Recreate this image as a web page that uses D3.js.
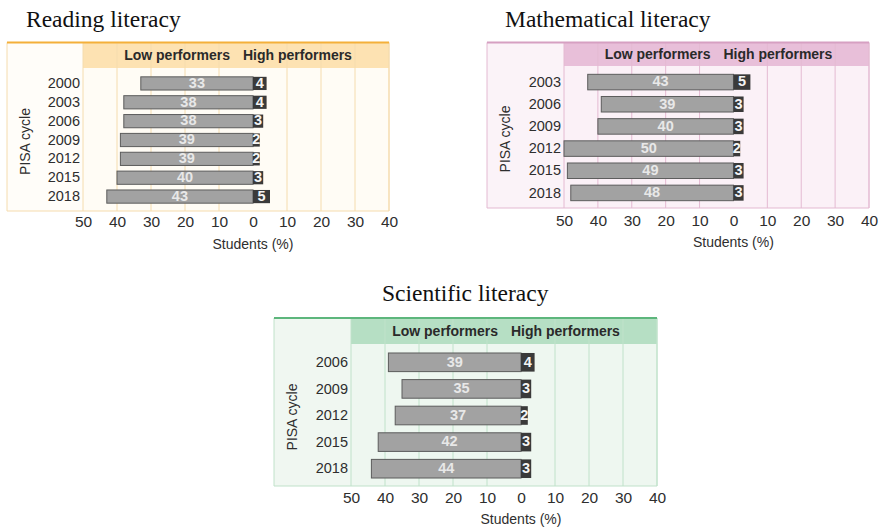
<!DOCTYPE html>
<html>
<head>
<meta charset="utf-8">
<script src="https://cdn.jsdelivr.net/npm/d3@7"></script>
<style>
  html, body { margin: 0; padding: 0; background: #ffffff; }
  svg { display: block; }
</style>
</head>
<body>
<svg id="chart" width="881" height="529"></svg>
<script>
// ---- data ----
const readingYears = ["2000", "2003", "2006", "2009", "2012", "2015", "2018"];
const readingLow   = [33, 38, 38, 39, 39, 40, 43];
const readingHigh  = [4, 4, 3, 2, 2, 3, 5];

const mathYears = ["2003", "2006", "2009", "2012", "2015", "2018"];
const mathLow   = [43, 39, 40, 50, 49, 48];
const mathHigh  = [5, 3, 3, 2, 3, 3];

const sciYears = ["2006", "2009", "2012", "2015", "2018"];
const sciLow   = [39, 35, 37, 42, 44];
const sciHigh  = [4, 3, 2, 3, 3];

const tickValues = [-50, -40, -30, -20, -10, 0, 10, 20, 30, 40];
const tickLabels = ["50", "40", "30", "20", "10", "0", "10", "20", "30", "40"];

const panelTitles = ["Reading literacy", "Mathematical literacy", "Scientific literacy"];
const headerLow = "Low performers";
const headerHigh = "High performers";
const axisTitle = "Students (%)";
const yAxisTitle = "PISA cycle";

// ---- layout / style ----
const svg = d3.select("#chart");
const sans = "'Liberation Sans', Arial, Helvetica, sans-serif";
const serif = "'Liberation Serif', 'Times New Roman', serif";

const panels = [
  { title: panelTitles[0], titleX: 26, titleY: 26.5, titleAnchor: "start",
    years: readingYears, low: readingLow, high: readingHigh,
    boxL: 7, top: 42.5, headB: 68, bottom: 211, xL: 83, xR: 389,
    rowT: 74, rowB: 206, tickY: 223, axTitleY: 245,
    accent: "#f4b03a", head: "#fde2b2", bg: "#fffcf5", labelBg: "#fffdf9", grid: "#f5dcae" },
  { title: panelTitles[1], titleX: 505, titleY: 26.5, titleAnchor: "start",
    years: mathYears, low: mathLow, high: mathHigh,
    boxL: 487, top: 42.5, headB: 66, bottom: 208, xL: 564, xR: 869,
    rowT: 71, rowB: 204, tickY: 222, axTitleY: 243,
    accent: "#d6a0c2", head: "#e8bfd9", bg: "#fbf1f7", labelBg: "#fbf3f8", grid: "#e4bad2" },
  { title: panelTitles[2], titleX: 382, titleY: 301, titleAnchor: "start",
    years: sciYears, low: sciLow, high: sciHigh,
    boxL: 274, top: 318, headB: 344, bottom: 486, xL: 351, xR: 657,
    rowT: 349, rowB: 482, tickY: 499, axTitleY: 520,
    accent: "#5db67c", head: "#b6dfc4", bg: "#eef7f0", labelBg: "#f0f7f1", grid: "#c0e2ca" }
];

panels.forEach(p => {
  const g = svg.append("g");
  const x = d3.scaleLinear().domain([-50, 40]).range([p.xL, p.xR]);
  const y = d3.scaleBand().domain(p.years).range([p.rowT, p.rowB]).paddingInner(0.3).paddingOuter(0.15);
  const x0 = x(0);

  // title
  g.append("text").attr("x", p.titleX).attr("y", p.titleY)
    .attr("font-family", serif).attr("font-size", 23.5).attr("fill", "#111")
    .attr("text-anchor", p.titleAnchor).text(p.title);

  // backgrounds
  g.append("rect").attr("x", p.boxL).attr("y", p.top).attr("width", p.xL - p.boxL).attr("height", p.bottom - p.top)
    .attr("fill", p.labelBg);
  g.append("rect").attr("x", p.xL).attr("y", p.top).attr("width", p.xR - p.xL).attr("height", p.bottom - p.top)
    .attr("fill", p.bg);
  g.append("rect").attr("x", p.xL).attr("y", p.top).attr("width", p.xR - p.xL).attr("height", p.headB - p.top)
    .attr("fill", p.head);

  // grid lines
  g.selectAll("line.grid").data(tickValues.filter(v => v !== 0)).enter().append("line")
    .attr("x1", d => x(d)).attr("x2", d => x(d)).attr("y1", p.top).attr("y2", p.bottom)
    .attr("stroke", p.grid).attr("stroke-width", 1);
  g.append("line").attr("x1", p.xR).attr("x2", p.xR).attr("y1", p.top).attr("y2", p.bottom)
    .attr("stroke", p.grid).attr("stroke-width", 1);

  // box borders
  g.append("line").attr("x1", p.boxL).attr("x2", p.boxL).attr("y1", p.top).attr("y2", p.bottom)
    .attr("stroke", p.grid).attr("stroke-width", 1);
  g.append("line").attr("x1", p.boxL).attr("x2", p.xR).attr("y1", p.bottom).attr("y2", p.bottom)
    .attr("stroke", p.grid).attr("stroke-width", 1.2);
  g.append("line").attr("x1", p.boxL).attr("x2", p.xR).attr("y1", p.top).attr("y2", p.top)
    .attr("stroke", p.accent).attr("stroke-width", 2);

  // header labels
  g.append("text").attr("x", x0 - 23).attr("y", (p.top + p.headB) / 2 + 1)
    .attr("dominant-baseline", "middle").attr("text-anchor", "end")
    .attr("font-family", sans).attr("font-weight", "bold").attr("font-size", 14).attr("fill", "#2a2a2a")
    .text(headerLow);
  g.append("text").attr("x", x0 - 10).attr("y", (p.top + p.headB) / 2 + 1)
    .attr("dominant-baseline", "middle").attr("text-anchor", "start")
    .attr("font-family", sans).attr("font-weight", "bold").attr("font-size", 14).attr("fill", "#2a2a2a")
    .text(headerHigh);

  const rows = p.years.map((yr, i) => ({ yr, low: p.low[i], high: p.high[i] }));

  // low bars
  g.selectAll("rect.low").data(rows).enter().append("rect")
    .attr("x", d => x(-d.low)).attr("y", d => y(d.yr))
    .attr("width", d => x0 - x(-d.low)).attr("height", y.bandwidth())
    .attr("fill", "#a2a2a2").attr("stroke", "#5c5c5c").attr("stroke-width", 1);
  // high bars
  g.selectAll("rect.high").data(rows).enter().append("rect")
    .attr("x", x0).attr("y", d => y(d.yr))
    .attr("width", d => x(d.high) - x0).attr("height", y.bandwidth())
    .attr("fill", "#3a3a3a");

  const fs = Math.min(14.5, y.bandwidth() + 1.5);
  g.selectAll("text.lowv").data(rows).enter().append("text")
    .attr("x", d => (x(-d.low) + x0) / 2).attr("y", d => y(d.yr) + y.bandwidth() / 2 + 0.5)
    .attr("text-anchor", "middle").attr("dominant-baseline", "middle")
    .attr("font-family", sans).attr("font-weight", "bold").attr("font-size", fs).attr("fill", "#e8e8e8")
    .text(d => d.low);
  g.selectAll("text.highv").data(rows).enter().append("text")
    .attr("x", d => (x(d.high) + x0) / 2).attr("y", d => y(d.yr) + y.bandwidth() / 2 + 0.5)
    .attr("text-anchor", "middle").attr("dominant-baseline", "middle")
    .attr("font-family", sans).attr("font-weight", "bold").attr("font-size", fs).attr("fill", "#f4f4f4")
    .text(d => d.high);

  // y axis (years)
  const yAxis = g.append("g").attr("transform", `translate(${p.xL - 3},0)`)
    .call(d3.axisLeft(y).tickSize(0).tickPadding(0));
  yAxis.select(".domain").remove();
  yAxis.selectAll("text").attr("font-family", sans).attr("font-size", 14.5).attr("fill", "#2e2e2e");

  // x axis
  const xAxis = g.append("g").attr("transform", `translate(0,${p.tickY - 7.5})`)
    .call(d3.axisBottom(x).tickValues(tickValues).tickFormat((d, i) => tickLabels[i]).tickSize(0).tickPadding(0));
  xAxis.select(".domain").remove();
  xAxis.selectAll("text").attr("font-family", sans).attr("font-size", 15.5).attr("fill", "#2e2e2e");

  // axis titles
  g.append("text").attr("x", x0).attr("y", p.axTitleY).attr("dominant-baseline", "middle")
    .attr("text-anchor", "middle").attr("font-family", sans).attr("font-size", 14).attr("fill", "#2e2e2e")
    .text(axisTitle);
  g.append("text")
    .attr("transform", `translate(${p.boxL + 19},${(p.headB + p.bottom) / 2 + 2}) rotate(-90)`)
    .attr("dominant-baseline", "middle").attr("text-anchor", "middle")
    .attr("font-family", sans).attr("font-size", 14).attr("fill", "#2e2e2e")
    .text(yAxisTitle);
});
</script>
</body>
</html>
